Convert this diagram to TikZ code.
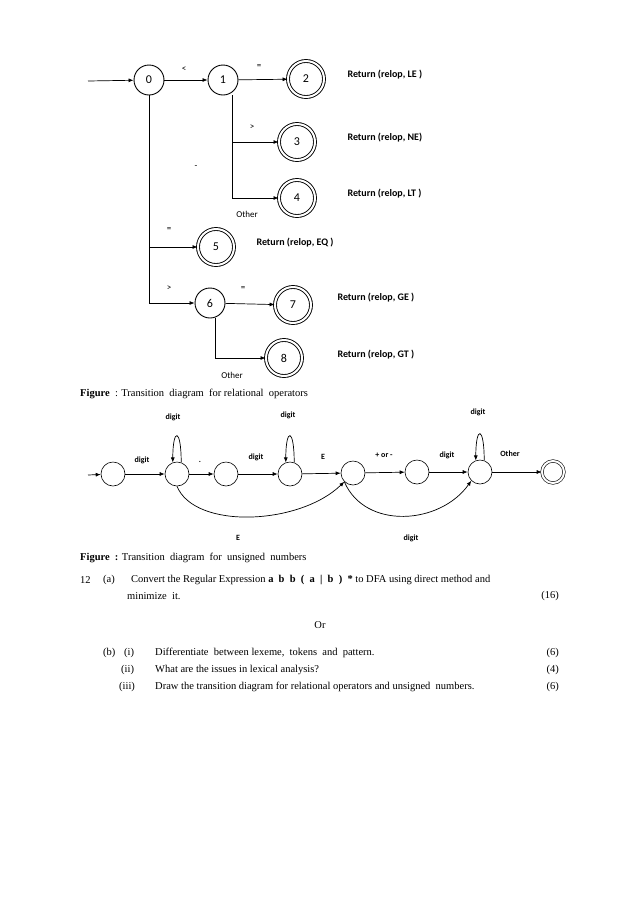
\documentclass[tikz,border=0pt]{standalone}
\usepackage{fontspec}
\setmainfont{Liberation Serif}
\newfontfamily\calfont{Carlito}
\usetikzlibrary{arrows.meta}
\begin{document}
\begin{tikzpicture}[x=1pt,y=-1pt,
  st/.style={circle,draw,line width=0.9pt,minimum size=30pt,inner sep=0pt,font=\calfont\fontsize{12}{12}\selectfont},
  acc/.style={st,double,double distance=2pt,minimum size=36pt},
  ss/.style={circle,draw,line width=0.6pt,minimum size=24pt,inner sep=0pt},
  sacc/.style={ss,double,double distance=2pt,minimum size=22pt},
  ar/.style={-{Latex[length=5pt,width=4pt]},line width=0.7pt},
  lb/.style={font=\calfont\fontsize{9}{10}\selectfont},
  db/.style={font=\calfont\bfseries\fontsize{8}{9}\selectfont},
  rt/.style={font=\calfont\bfseries\fontsize{10}{11}\selectfont,anchor=west},
  tx/.style={font=\fontsize{10.5}{12}\selectfont,anchor=west,inner sep=0pt}]
\useasboundingbox (0,0) rectangle (638,903);
% top diagram
\coordinate (in0) at (88,81);
\node[st] (n0) at (149,80) {0};
\node[st] (n1) at (223,80) {1};
\node[acc] (n2) at (306,79) {2};
\node[acc] (n3) at (297,142) {3};
\node[acc] (n4) at (297,198) {4};
\node[acc] (n5) at (216,247) {5};
\node[st] (n6) at (210,303) {6};
\node[acc] (n7) at (293,305) {7};
\node[acc] (n8) at (284,358) {8};
\coordinate (b1) at (232,142);
\coordinate (b0) at (149,247);
\draw[ar] (in0) -- (n0);
\draw[ar] (n0) -- (n1);
\draw[ar] (n1) -- (n2);
\draw[ar] (n1.south -| b1) |- (n3);
\draw[ar] (b1) |- (n4);
\draw[ar] (n0.south) |- (n6);
\draw[ar] (b0) -- (n5);
\draw[ar] (n6) -- (n7);
\draw[ar] (n6.-70) |- (n8);
\node[lb] (l1) at (184,69) {<};
\node[lb] (l2) at (259,67) {=};
\node[lb] (l3) at (252,127) {>};
\node[lb] (l4) at (247,214) {Other};
\node[lb] (l5) at (196,167) {-};
\node[lb] (l6) at (169,230) {=};
\node[lb] (l7) at (169,288) {>};
\node[lb] (l8) at (243,289) {=};
\node[lb] (l9) at (232,375) {Other};
\node[rt] (r2) at (344,75) {Return (relop, LE )};
\node[rt] (r3) at (344,138) {Return (relop, NE)};
\node[rt] (r4) at (344,194) {Return (relop, LT )};
\node[rt] (r5) at (253,243) {Return (relop, EQ )};
\node[rt] (r7) at (334,298) {Return (relop, GE )};
\node[rt] (r8) at (334,355) {Return (relop, GT )};
\node[tx] (c1) at (80,394) {\textbf{Figure} \ : Transition \ diagram \ for relational \ operators};
% second diagram
\coordinate (in1) at (88,475);
\node[ss] (s0) at (113,474) {};
\node[ss] (s1) at (177,474) {};
\node[ss] (s2) at (226,474) {};
\node[ss] (s3) at (290,474) {};
\node[ss] (s4) at (353,473) {};
\node[ss] (s5) at (417,472) {};
\node[ss] (s6) at (480,472) {};
\node[sacc] (s7) at (553,472) {};
\draw[ar] (in1) -- (s0);
\draw[ar] (s0) -- (s1);
\draw[ar] (s1) -- (s2);
\draw[ar] (s2) -- (s3);
\draw[ar] (s3) -- (s4);
\draw[ar] (s4) -- (s5);
\draw[ar] (s5) -- (s6);
\draw[ar] (s6) -- (s7);
\draw[ar] (s1.70) .. controls +(0,-35) and +(0,-35) .. (s1.110);
\draw[ar] (s3.70) .. controls +(0,-35) and +(0,-35) .. (s3.110);
\draw[ar] (s6.70) .. controls +(0,-35) and +(0,-35) .. (s6.110);
\draw[ar] (s1.south) .. controls (195,530) and (300,525) .. (s4.south west);
\draw[ar] (s4.south west) .. controls (365,530) and (440,525) .. (s6.south west);
\node[db] (d1) at (142,460) {digit};
\node[db] (d2) at (173,417) {digit};
\node[db] (d3) at (200,462) {.};
\node[db] (d4) at (256,457) {digit};
\node[db] (d5) at (288,415) {digit};
\node[db] (d6) at (323,457) {E};
\node[db] (d7) at (384,455) {+ or -};
\node[db] (d8) at (447,455) {digit};
\node[db] (d9) at (478,412) {digit};
\node[db] (d10) at (510,454) {Other};
\node[db] (d11) at (238,538) {E};
\node[db] (d12) at (411,538) {digit};
\node[tx] (c2) at (80,558) {\textbf{Figure \ :} Transition \ diagram \ for \ unsigned \ numbers};
% question text
\node[tx] (q1) at (80,580) {12};
\node[tx] (q2) at (103,580) {(a)};
\node[tx] (q3) at (131,580) {Convert the Regular Expression \textbf{a \ b \ b \ ( \ a \ | \ b \ ) \ *} to DFA using direct method and};
\node[tx] (q4) at (127,596) {minimize \ it.};
\node[tx,anchor=east] (q5) at (559,596) {(16)};
\node[tx,anchor=center] (q6) at (320,625) {Or};
\node[tx] (b0t) at (103,653) {(b)};
\node[tx] (b1t) at (124,653) {(i)};
\node[tx] (b2) at (155,653) {Differentiate \ between lexeme, \ tokens \ and \ pattern.};
\node[tx,anchor=east] (b3) at (559,653) {(6)};
\node[tx] (b4) at (121,670) {(ii)};
\node[tx] (b5) at (155,670) {What are the issues in lexical analysis?};
\node[tx,anchor=east] (b6) at (559,670) {(4)};
\node[tx] (b7) at (119,687) {(iii)};
\node[tx] (b8) at (155,687) {Draw the transition diagram for relational operators and unsigned \ numbers.};
\node[tx,anchor=east] (b9) at (559,687) {(6)};
\end{tikzpicture}
\end{document}
